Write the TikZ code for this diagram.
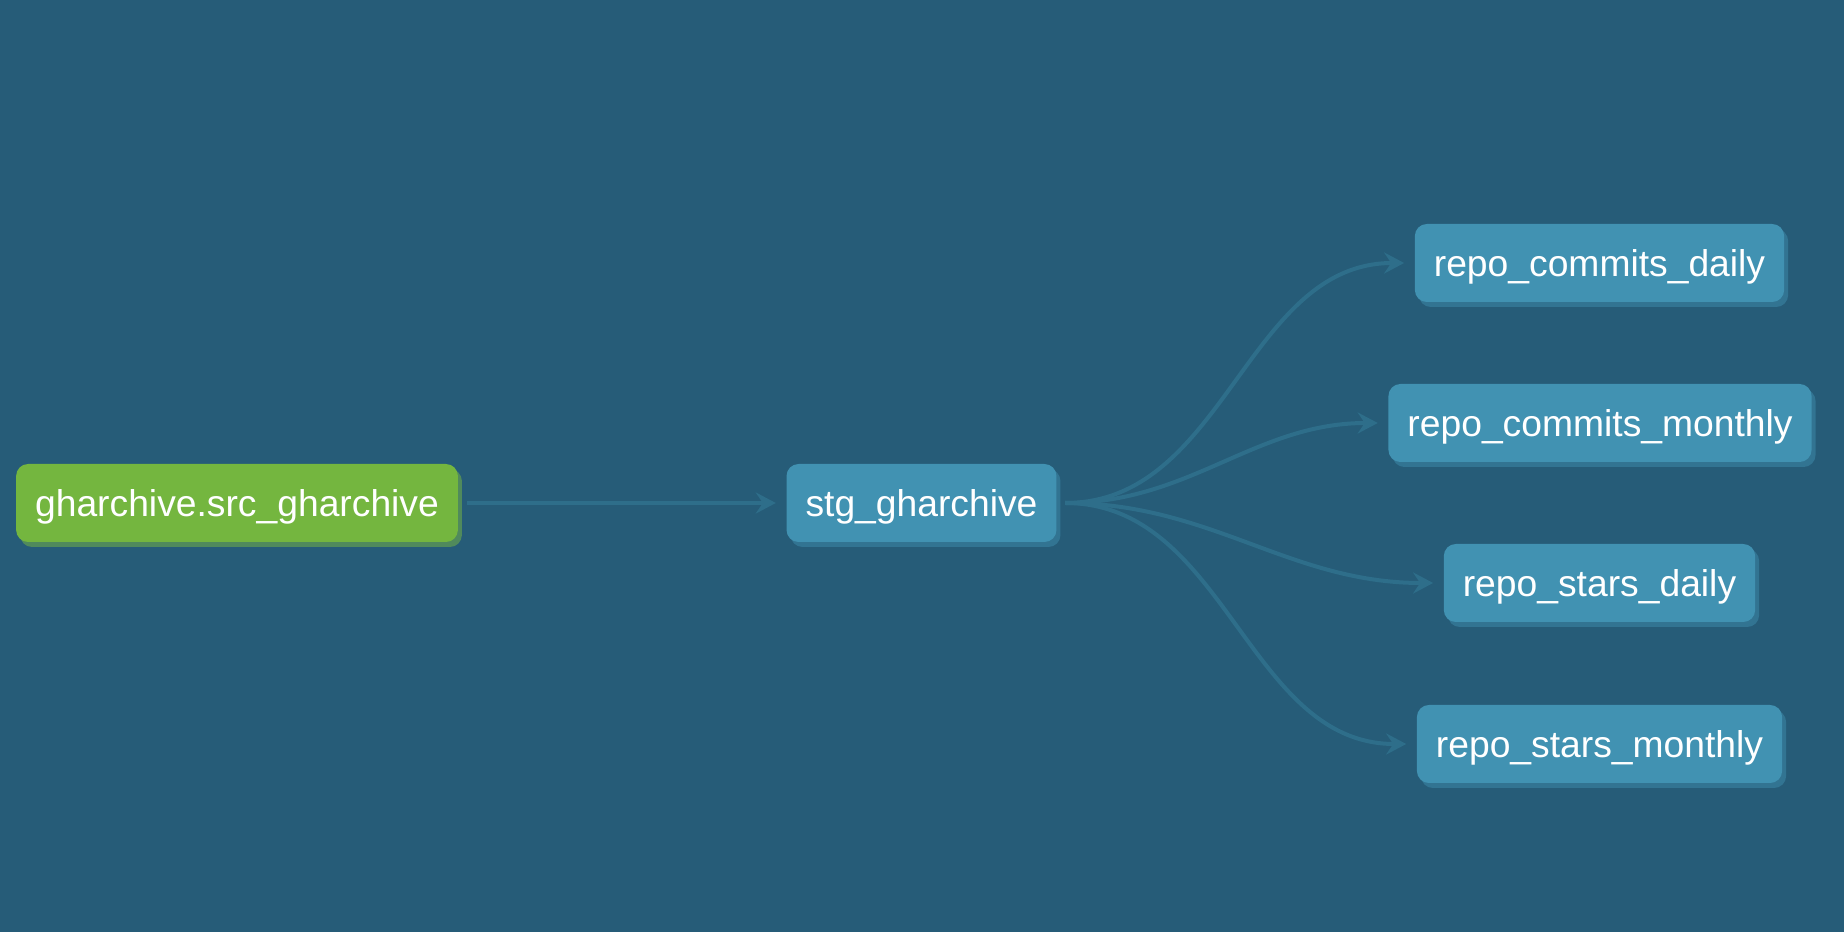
\documentclass[tikz,border=0pt]{standalone}
\usepackage{fontspec}
\setmainfont{Liberation Sans}
\usetikzlibrary{arrows.meta,shadows}

\definecolor{bgblue}{RGB}{38,92,120}
\definecolor{nodeblue}{RGB}{65,146,178}
\definecolor{shadowblue}{RGB}{50,116,146}
\definecolor{nodegreen}{RGB}{116,182,63}
\definecolor{shadowgreen}{RGB}{80,138,92}
\definecolor{edgeblue}{RGB}{46,110,138}

\tikzset{
  box/.style={rounded corners=1.2mm, text=white, font=\fontsize{10.6}{12}\selectfont,
    minimum height=7.8mm, inner xsep=1.9mm, text depth=0pt},
  model/.style={box, fill=nodeblue,
    drop shadow={shadow xshift=0.4mm, shadow yshift=-0.5mm, fill=shadowblue, opacity=1}},
  source/.style={box, fill=nodegreen,
    drop shadow={shadow xshift=0.4mm, shadow yshift=-0.5mm, fill=shadowgreen, opacity=1}},
  edge/.style={draw=edgeblue, line width=0.4mm, shorten <=0.8mm, shorten >=1mm,
    -{Stealth[length=2mm,width=2.1mm,inset=0.7mm]}},
}

\begin{document}
\begin{tikzpicture}
\fill[bgblue] (0,0) rectangle (18.44,9.32);
\useasboundingbox (0,0) rectangle (18.44,9.32);

% source and staging
\node[source] (src) at (2.37,4.29) {gharchive.src\_gharchive};
\node[model] (stg) at (9.215,4.29) {stg\_gharchive};

% marts
\node[model] (commitsdaily) at (15.995,6.69) {repo\_commits\_daily};
\node[model] (commitsmonthly) at (16.00,5.09) {repo\_commits\_monthly};
\node[model] (starsdaily) at (15.995,3.49) {repo\_stars\_daily};
\node[model] (starsmonthly) at (15.995,1.88) {repo\_stars\_monthly};

\draw[edge] (src.east) -- (stg.west);
\foreach \m in {commitsdaily,commitsmonthly,starsdaily,starsmonthly}
  \draw[edge] (stg.east) to[out=0,in=180] (\m.west);
\end{tikzpicture}
\end{document}
